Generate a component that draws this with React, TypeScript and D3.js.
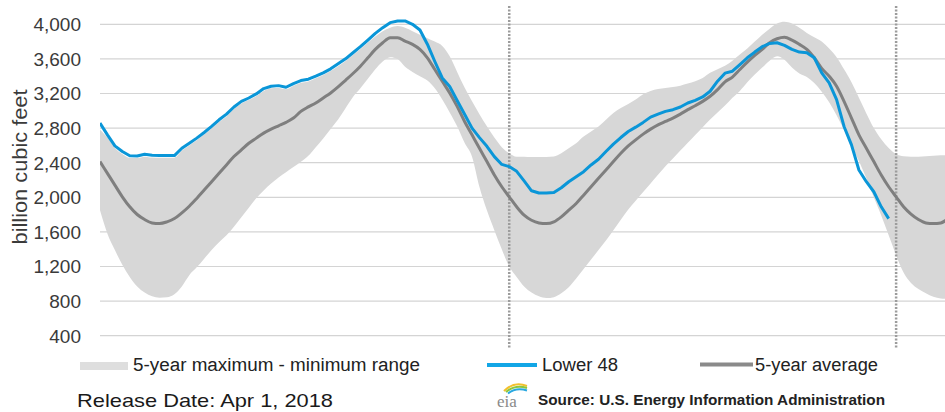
import React from "react";
import * as d3 from "d3";

// Weekly storage values (Bcf); array index = week number from chart start
const lower48: number[] = [
  2858, 2722, 2594, 2529, 2480, 2478, 2498, 2486, 2482, 2482,
  2482, 2567, 2625, 2684, 2749, 2819, 2896, 2962, 3044, 3109,
  3148, 3195, 3257, 3284, 3291, 3272, 3315, 3350, 3365, 3400,
  3439, 3485, 3543, 3601, 3671, 3741, 3818, 3895, 3961, 4019,
  4039, 4039, 4000, 3934, 3770, 3570, 3380, 3280, 3120, 2960,
  2800, 2690, 2590, 2470, 2380, 2355, 2300, 2190, 2075, 2050,
  2050, 2055, 2110, 2180, 2238, 2296, 2374, 2440, 2530, 2615,
  2691, 2761, 2811, 2866, 2927, 2962, 2993, 3013, 3044, 3090,
  3121, 3160, 3226, 3342, 3435, 3458, 3535, 3613, 3679, 3741,
  3779, 3787, 3756, 3710, 3679, 3671, 3613, 3439, 3323, 3129,
  2819, 2606, 2316, 2180, 2064, 1890, 1754,
];

const fiveYearAvg: number[] = [
  2413, 2277, 2141, 2006, 1890, 1801, 1743, 1704, 1696, 1716,
  1754, 1820, 1897, 1987, 2083, 2180, 2277, 2374, 2471, 2548,
  2625, 2684, 2742, 2788, 2827, 2866, 2916, 2993, 3045, 3090,
  3148, 3206, 3276, 3353, 3431, 3516, 3613, 3710, 3787, 3845,
  3845, 3806, 3768, 3710, 3613, 3477, 3342, 3206, 3051, 2877,
  2722, 2567, 2413, 2258, 2122, 2006, 1890, 1793, 1735, 1704,
  1696, 1716, 1774, 1851, 1929, 2025, 2122, 2219, 2316, 2413,
  2509, 2594, 2664, 2730, 2788, 2838, 2877, 2916, 2962, 3013,
  3059, 3109, 3168, 3245, 3335, 3390, 3477, 3562, 3640, 3710,
  3787, 3833, 3850, 3818, 3768, 3710, 3613, 3490, 3400, 3284,
  3109, 2916, 2722, 2567, 2413, 2258, 2122, 2006, 1890, 1805,
  1743, 1704, 1696, 1704, 1754,
];

const rangeMax: number[] = [
  2780, 2690, 2570, 2500, 2455, 2455, 2470, 2460, 2458, 2458,
  2458, 2540, 2600, 2660, 2725, 2795, 2870, 2935, 3020, 3085,
  3125, 3170, 3230, 3260, 3265, 3250, 3290, 3325, 3340, 3375,
  3415, 3460, 3515, 3575, 3645, 3715, 3790, 3860, 3920, 3960,
  3980, 3960, 3920, 3880, 3840, 3800, 3750, 3630, 3450, 3270,
  3110, 2960, 2820, 2690, 2580, 2510, 2470, 2470, 2467, 2467,
  2467, 2471, 2509, 2567, 2625, 2703, 2761, 2819, 2896, 2974,
  3032, 3080, 3130, 3190, 3230, 3253, 3264, 3276, 3291, 3315,
  3342, 3380, 3439, 3480, 3520, 3580, 3650, 3720, 3800, 3880,
  3950, 4010, 4030, 4010, 3960, 3900, 3850, 3800, 3720, 3620,
  3480, 3330, 3150, 2970, 2800, 2670, 2570, 2500, 2475, 2470,
  2470, 2475, 2480, 2485, 2485,
];

const rangeMin: number[] = [
  1850, 1580, 1390, 1220, 1080, 970, 900, 855, 840, 845,
  880, 970, 1100, 1190, 1290, 1390, 1480, 1560, 1660, 1770,
  1880, 1990, 2080, 2160, 2230, 2290, 2350, 2410, 2480, 2580,
  2680, 2790, 2900, 3030, 3160, 3260, 3370, 3480, 3570, 3620,
  3600, 3510, 3450, 3400, 3350, 3260, 3130, 2980, 2820, 2630,
  2470, 2120, 1850, 1620, 1400, 1200, 1080, 970, 900, 855,
  835, 845, 890, 960, 1060, 1170, 1280, 1390, 1500, 1620,
  1740, 1860, 1960, 2060, 2160, 2260, 2360, 2450, 2540, 2630,
  2720, 2810, 2900, 2980, 3060, 3150, 3230, 3330, 3420, 3500,
  3580, 3630, 3590, 3500, 3430, 3390, 3320, 3220, 3100, 2950,
  2780, 2600, 2420, 2220, 2000, 1790, 1560, 1330, 1130, 1010,
  940, 890, 850, 830, 825,
];

const yTicks: number[] = [400, 800, 1200, 1600, 2000, 2400, 2800, 3200, 3600, 4000];
const yearBoundaryWeeks: number[] = [55, 107];

const legendLabels = ["5-year maximum - minimum range", "Lower 48", "5-year average"];
const yTitle = "billion cubic feet";
const releaseText = "Release Date:  Apr 1, 2018";
const sourceText = "Source:  U.S. Energy Information Administration";

const W = 945;
const H = 412;
const BLUE = "#0a96d8";
const AVG = "#7f7f7f";
const BAND = "#d7d7d7";

export default function App() {
  const x = d3.scaleLinear().domain([0, 114]).range([100, 948.2]);
  const y = d3.scaleLinear().domain([400, 4000]).range([335.7, 24.3]);

  const bandData = rangeMax.map((v, i) => ({ i, hi: v, lo: rangeMin[i] }));
  const band = d3
    .area<{ i: number; hi: number; lo: number }>()
    .x((d) => x(d.i))
    .y0((d) => y(d.lo))
    .y1((d) => y(d.hi))
    .curve(d3.curveMonotoneX)(bandData) as string;

  const line = d3
    .line<number>()
    .x((_, i) => x(i))
    .y((d) => y(d))
    .curve(d3.curveLinear);
  const avgLine = d3
    .line<number>()
    .x((_, i) => x(i))
    .y((d) => y(d))
    .curve(d3.curveMonotoneX);

  const font = "'Liberation Sans', Arial, sans-serif";

  return (
    <svg
      width={W}
      height={H}
      style={{ position: "absolute", left: 0, top: 0, background: "#fff" }}
      fontFamily={font}
    >
      <defs>
        <clipPath id="plotClip">
          <rect x={100} y={0} width={W - 100} height={350} />
        </clipPath>
      </defs>
      {/* gridlines */}
      {yTicks.map((t) => (
        <line
          key={t}
          x1={100}
          x2={W}
          y1={y(t)}
          y2={y(t)}
          stroke="#d4d4d4"
          strokeWidth={1.2}
        />
      ))}
      {/* tick labels */}
      {yTicks.map((t) => (
        <text
          key={"l" + t}
          x={81}
          y={y(t)}
          dy="0.36em"
          textAnchor="end"
          fontSize={19}
          fill="#3a3a3a"
        >
          {d3.format(",")(t)}
        </text>
      ))}
      <text
        transform={`translate(27,167) rotate(-90)`}
        textAnchor="middle"
        fontSize={20}
        fill="#3a3a3a"
        textLength={155}
        lengthAdjust="spacingAndGlyphs"
      >
        {yTitle}
      </text>

      <g clipPath="url(#plotClip)">
        <path d={band} fill={BAND} />
        {yearBoundaryWeeks.map((w) => (
          <line
            key={w}
            x1={x(w)}
            x2={x(w)}
            y1={6}
            y2={348}
            stroke="#9c9c9c"
            strokeWidth={2.5}
            strokeDasharray="2 1.5"
          />
        ))}
        <path
          d={avgLine(fiveYearAvg) as string}
          fill="none"
          stroke={AVG}
          strokeWidth={3}
          strokeLinejoin="round"
        />
        <path
          d={line(lower48) as string}
          fill="none"
          stroke={BLUE}
          strokeWidth={3}
          strokeLinejoin="round"
        />
      </g>

      {/* legend */}
      <rect x={80} y={362} width={48} height={8} fill="#dedede" />
      <text x={133} y={371} fontSize={18} fill="#222" textLength={287} lengthAdjust="spacingAndGlyphs">
        {legendLabels[0]}
      </text>
      <line x1={487} x2={537} y1={365} y2={365} stroke="#12a6e6" strokeWidth={4} />
      <text x={542} y={371} fontSize={18} fill="#222" textLength={76} lengthAdjust="spacingAndGlyphs">
        {legendLabels[1]}
      </text>
      <line x1={700} x2={753} y1={364.5} y2={364.5} stroke="#8a8a8a" strokeWidth={4} />
      <text x={755} y={371} fontSize={18} fill="#222" textLength={123} lengthAdjust="spacingAndGlyphs">
        {legendLabels[2]}
      </text>

      {/* footer */}
      <text x={77} y={407} fontSize={18.5} fill="#1a1a1a" textLength={256} lengthAdjust="spacingAndGlyphs">
        {releaseText}
      </text>
      <g>
        <path d="M 504 391 Q 514 381 527 386" fill="none" stroke="#f2c12e" strokeWidth={2} />
        <path d="M 506 392 Q 515 384 527 388" fill="none" stroke="#8cc63f" strokeWidth={2} />
        <path d="M 508 393.5 Q 516 387 527 390.5" fill="none" stroke="#29a8e0" strokeWidth={2} />
        <text x={497} y={407} fontSize={17} fill="#8a8a8a" fontFamily="'Liberation Serif', serif">
          eia
        </text>
      </g>
      <text
        x={538}
        y={405}
        fontSize={15}
        fontWeight="bold"
        fill="#222"
        textLength={347}
        lengthAdjust="spacingAndGlyphs"
      >
        {sourceText}
      </text>
    </svg>
  );
}
